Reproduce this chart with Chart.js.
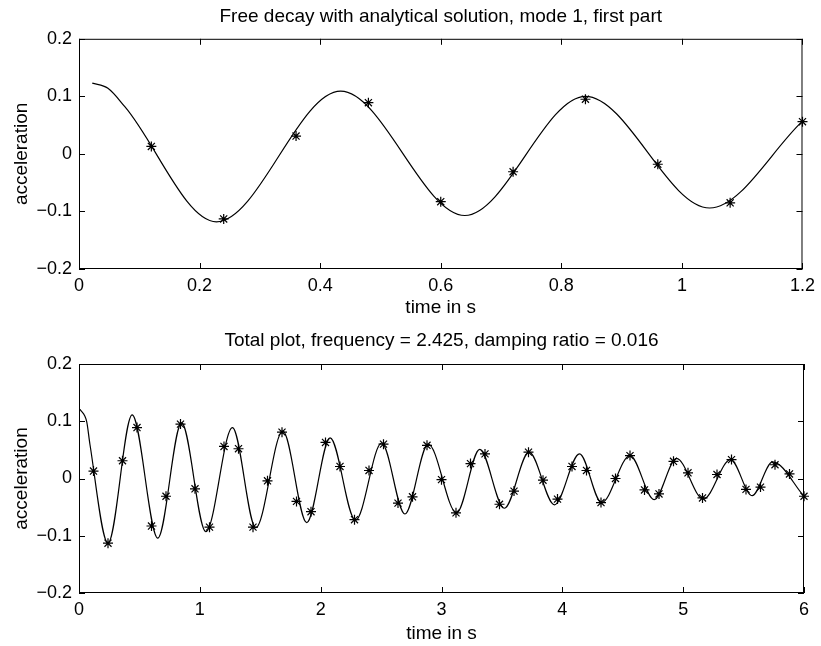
<!DOCTYPE html>
<html>
<head>
<meta charset="utf-8">
<script src="https://cdn.jsdelivr.net/npm/chart.js@4/dist/chart.umd.min.js"></script>
<style>
    html, body { margin: 0; padding: 0; background: #fff; }
    .plot { position: absolute; left: 0; width: 821px; }
    #top { top: 0; height: 320px; }
    #bottom { top: 320px; height: 326px; }
</style>
</head>
<body>
<div class="plot" id="top"><canvas id="partChart"></canvas></div>
<div class="plot" id="bottom"><canvas id="totalChart"></canvas></div>
<script>
// first part: points of the analytical curve (start + turning points)
const partTimes = [0.022, 0.048, 0.076, 0.228, 0.434, 0.64, 0.84, 1.046, 1.2];
const partAccel = [0.123, 0.114, 0.082, -0.118, 0.109, -0.107, 0.100, -0.094, 0.057];

// total plot: points of the analytical curve
const totalTimes = [0.008, 0.064, 0.091, 0.24, 0.44, 0.652, 0.849, 1.05, 1.27, 1.463, 1.687, 1.885, 2.078, 2.288, 2.505, 2.697, 2.89,
    3.125, 3.316, 3.52, 3.725, 3.935, 4.142, 4.325, 4.56, 4.76, 4.945, 5.167, 5.393, 5.57, 5.74, 6.0];
const totalAccel = [0.121, 0.099, 0.059, -0.113, 0.111, -0.104, 0.097, -0.093, 0.089, -0.086, 0.083, -0.077, 0.071, -0.073, 0.062, -0.062, 0.060,
    -0.060, 0.051, -0.052, 0.046, -0.046, 0.043, -0.042, 0.040, -0.037, 0.035, -0.036, 0.033, -0.030, 0.029, -0.031];

// measured samples (the * markers)
const sampleTimes = [0.12, 0.24, 0.36, 0.48, 0.6, 0.72, 0.84, 0.96, 1.08, 1.2,
    1.32, 1.44, 1.56, 1.68, 1.8, 1.92, 2.04, 2.16, 2.28, 2.4,
    2.52, 2.64, 2.76, 2.88, 3, 3.12, 3.24, 3.36, 3.48, 3.6,
    3.72, 3.84, 3.96, 4.08, 4.2, 4.32, 4.44, 4.56, 4.68, 4.8,
    4.92, 5.04, 5.16, 5.28, 5.4, 5.52, 5.64, 5.76, 5.88, 6];
const sampleAccel = [0.013, -0.113, 0.031, 0.089, -0.083, -0.031, 0.095, -0.018, -0.085, 0.056,
    0.052, -0.085, -0.004, 0.081, -0.040, -0.058, 0.063, 0.021, -0.072, 0.014,
    0.060, -0.043, -0.032, 0.058, -0.002, -0.060, 0.026, 0.043, -0.045, -0.022,
    0.046, -0.003, -0.036, 0.021, 0.014, -0.042, 0.000, 0.040, -0.020, -0.027,
    0.030, 0.010, -0.034, 0.007, 0.033, -0.019, -0.015, 0.024, 0.008, -0.031];

const partTitle = 'Free decay with analytical solution, mode 1, first part';
const totalTitle = 'Total plot, frequency = 2.425, damping ratio = 0.016';
const xTitle = 'time in s';
const yTitle = 'acceleration';

const FONT = '"Liberation Sans", Arial, Helvetica, sans-serif';

const fmt = v => String(Math.round(v * 100) / 100).replace('-', '\u2212');

// matlab style box with ticks pointing inwards on all four sides
const matlabFrame = {
    id: 'matlabFrame',
    afterDraw(chart) {
        const {ctx, chartArea: a, scales: {x, y}} = chart;
        ctx.save();
        ctx.strokeStyle = '#000';
        ctx.lineWidth = 1;
        ctx.strokeRect(a.left + 0.5, a.top + 0.5, a.right - a.left - 1, a.bottom - a.top - 1);
        ctx.beginPath();
        x.ticks.forEach(t => {
            const px = Math.round(x.getPixelForValue(t.value)) + 0.5;
            ctx.moveTo(px, a.bottom); ctx.lineTo(px, a.bottom - 6);
            ctx.moveTo(px, a.top); ctx.lineTo(px, a.top + 6);
        });
        y.ticks.forEach(t => {
            const py = Math.round(y.getPixelForValue(t.value)) + 0.5;
            ctx.moveTo(a.left, py); ctx.lineTo(a.left + 6, py);
            ctx.moveTo(a.right, py); ctx.lineTo(a.right - 6, py);
        });
        ctx.stroke();
        ctx.restore();
    }
};

function setChart(canvas, s) {
    const stars = sampleTimes.map((t, i) => ({x: t, y: sampleAccel[i]})).filter(p => p.x <= s.xMax + 1e-9);
    new Chart(canvas.getContext('2d'), {
        type: 'line',
        data: {
            datasets: [
                {
                    label: 'analytical',
                    data: s.times.map((t, i) => ({x: t, y: s.accel[i]})),
                    borderColor: '#000',
                    borderWidth: 1.2,
                    pointRadius: 0,
                    cubicInterpolationMode: 'monotone',
                    fill: false
                },
                {
                    label: 'measured',
                    data: stars,
                    showLine: false,
                    pointStyle: 'star',
                    pointRadius: 5,
                    borderColor: '#000',
                    backgroundColor: '#000',
                    pointBorderWidth: 1.2,
                    clip: false
                }
            ]
        },
        options: {
            responsive: true,
            maintainAspectRatio: false,
            animation: false,
            events: [],
            layout: {padding: {left: 0, right: 17, top: 0, bottom: 0}},
            plugins: {
                legend: {display: false},
                tooltip: {enabled: false},
                title: {
                    display: true,
                    fullSize: false,
                    text: s.title,
                    color: '#000',
                    font: {family: FONT, size: 19, weight: 'normal', lineHeight: 1.2},
                    padding: s.titlePad
                }
            },
            scales: {
                x: {
                    type: 'linear',
                    min: 0,
                    max: s.xMax,
                    afterFit: sc => { sc.height = s.xHeight; },
                    grid: {display: false, drawTicks: false},
                    border: {display: false},
                    ticks: {stepSize: s.xStep, color: '#000', padding: 6, maxRotation: 0,
                        font: {family: FONT, size: 18}, callback: fmt},
                    title: {display: true, text: xTitle, color: '#000',
                        font: {family: FONT, size: 19, lineHeight: 1.2}, padding: {top: 0, bottom: 0.5}}
                },
                y: {
                    min: -0.2,
                    max: 0.2,
                    afterFit: sc => { sc.width = 79; },
                    grid: {display: false, drawTicks: false},
                    border: {display: false},
                    ticks: {stepSize: 0.1, color: '#000', padding: 7,
                        font: {family: FONT, size: 18}, callback: fmt},
                    title: {display: true, text: yTitle, color: '#000',
                        font: {family: FONT, size: 19, lineHeight: 1.2}, padding: {top: 10, bottom: 0}}
                }
            }
        },
        plugins: [matlabFrame]
    });
}

setChart(document.getElementById('partChart'), {
    title: partTitle, times: partTimes, accel: partAccel,
    xMax: 1.2, xStep: 0.2, xHeight: 51, titlePad: {top: 5, bottom: 11}
});

setChart(document.getElementById('totalChart'), {
    title: totalTitle, times: totalTimes, accel: totalAccel,
    xMax: 6, xStep: 1, xHeight: 53, titlePad: {top: 9.6, bottom: 11.6}
});
</script>
</body>
</html>
